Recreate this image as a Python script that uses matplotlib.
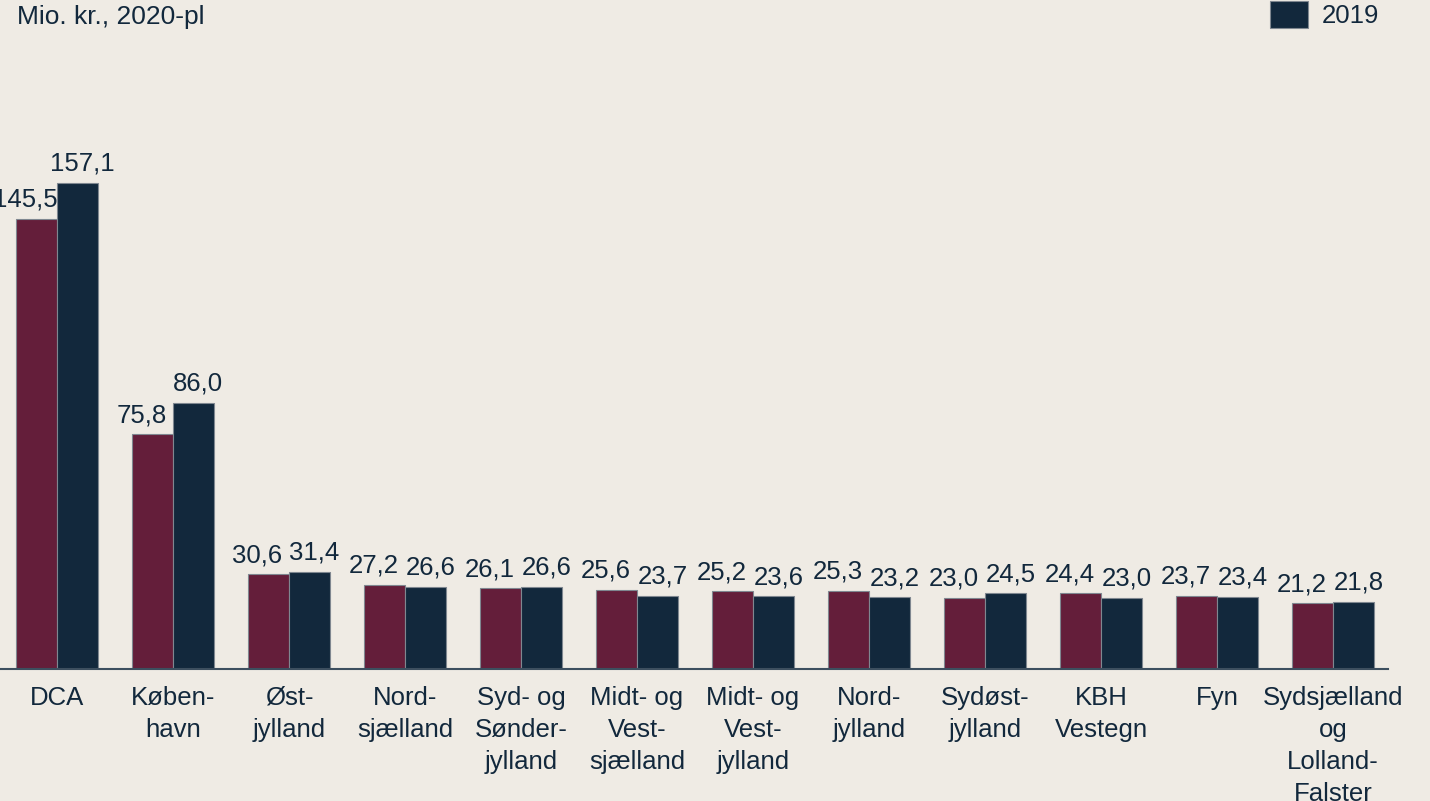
import matplotlib.pyplot as plt
import numpy as np

plt.rcParams["font.family"] = ["Liberation Sans", "DejaVu Sans"]

# data
categories = ["DCA", "Køben-\nhavn", "Øst-\njylland", "Nord-\nsjælland", "Syd- og\nSønder-\njylland",
              "Midt- og\nVest-\nsjælland", "Midt- og\nVest-\njylland", "Nord-\njylland", "Sydøst-\njylland",
              "KBH\nVestegn", "Fyn", "Sydsjælland\nog\nLolland-\nFalster"]
values_2020 = [145.5, 75.8, 30.6, 27.2, 26.1, 25.6, 25.2, 25.3, 23.0, 24.4, 23.7, 21.2]
values_2019 = [157.1, 86.0, 31.4, 26.6, 26.6, 23.7, 23.6, 23.2, 24.5, 23.0, 23.4, 21.8]

bg = "#EFEBE4"
maroon = "#641E3A"
navy = "#12283C"
txt = "#12283C"

fig = plt.figure(figsize=(14.3, 8.01), dpi=100, facecolor=bg)
ax = fig.add_axes([0, 1 - 669 / 801, 1388 / 1430, 619 / 801])
ax.set_facecolor(bg)

x = np.arange(len(categories))
w = 0.353
b1 = ax.bar(x - w / 2, values_2020, w, color=maroon, edgecolor="#7F8790", linewidth=0.8, label="2020")
b2 = ax.bar(x + w / 2, values_2019, w, color=navy, edgecolor="#7F8790", linewidth=0.8, label="2019")

# labels sit a bit off-centre in the original (maroon to the left, navy to the right)
for bars, vals, dx in [(b1, values_2020, -8), (b2, values_2019, 3.5)]:
    for r, v in zip(bars, vals):
        ax.annotate(f"{v:.1f}".replace(".", ","), (r.get_x() + r.get_width() / 2, v),
                    xytext=(dx, 5), textcoords="offset points", ha="center", va="bottom",
                    fontsize=18.5, color=txt)

ax.set_xlim(-57 / 116, 1331 / 116)
ax.set_ylim(0, 200)
ax.set_xticks(x)
ax.set_xticklabels(categories, fontsize=18.5, color=txt, linespacing=1.42)
ax.tick_params(axis="x", length=0, pad=12)
ax.set_yticks([])
for s in ["top", "right", "left"]:
    ax.spines[s].set_visible(False)
ax.spines["bottom"].set_color("#3D4F5F")
ax.spines["bottom"].set_linewidth(1.5)

fig.text(17 / 1430, 1 - 17 / 801, "Mio. kr., 2020-pl", fontsize=19, color=txt, ha="left", va="center")
fig.legend(handles=[b2], labels=["2019"], loc="upper right", bbox_to_anchor=(1380 / 1430, 1.0),
           frameon=False, fontsize=18.5, labelcolor=txt, handlelength=1.5, handleheight=1.2,
           handletextpad=0.5, borderaxespad=0, borderpad=0.05)

fig.savefig("out.png", dpi=100, facecolor=bg)
